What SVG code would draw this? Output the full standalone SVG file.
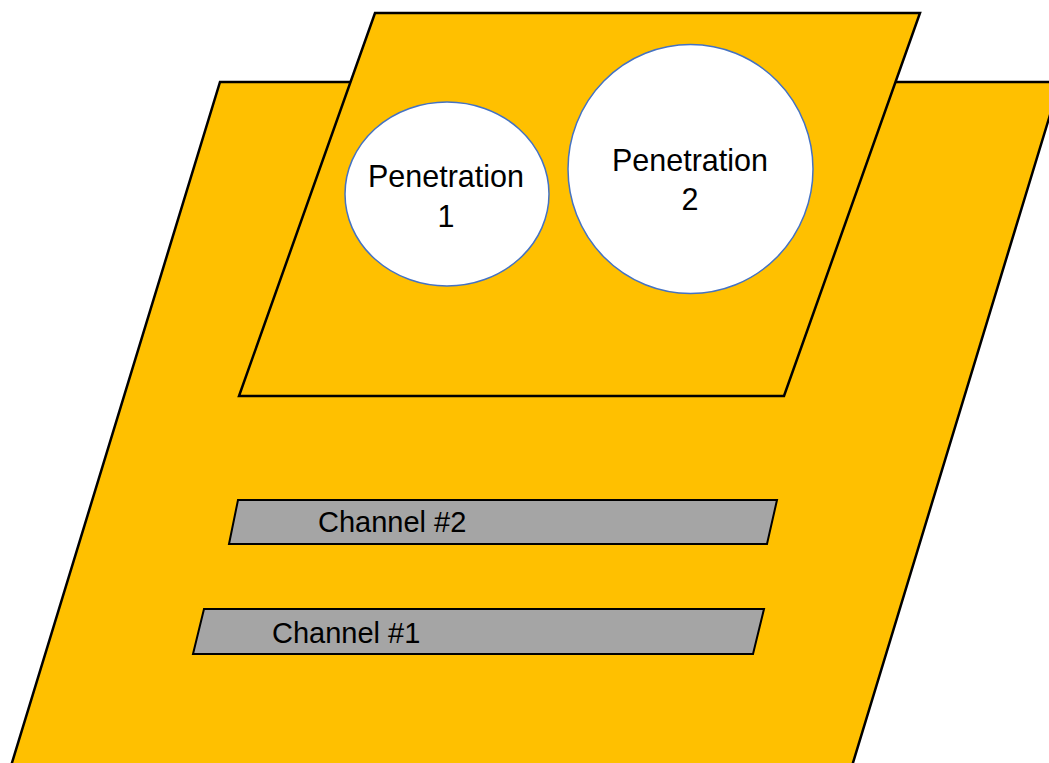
<svg xmlns="http://www.w3.org/2000/svg" width="1049" height="763" viewBox="0 0 1049 763">
<style>
.plate{fill:#FFC000;stroke:#000;stroke-width:2.5;stroke-linejoin:miter}
.chan{fill:#A5A5A5;stroke:#000;stroke-width:2}
.pen{fill:#fff;stroke:#4472C4;stroke-width:1.5}
text{font-family:"Liberation Sans",Arial,sans-serif;fill:#000}
.lbl{font-size:30.5px;text-anchor:middle}
.clbl{font-size:29px}
</style>
<rect width="1049" height="763" fill="#fff"/>
<g id="base-plate"><polygon class="plate" points="220,82 1060,82 852,766 11,766"/></g>
<g id="top-plate"><polygon class="plate" points="375,13 920,13 784,396 239,396"/></g>
<g id="penetration-1"><ellipse class="pen" cx="447" cy="194" rx="102" ry="92"/><text class="lbl" x="446" y="187">Penetration</text><text class="lbl" x="446" y="227">1</text></g>
<g id="penetration-2"><ellipse class="pen" cx="690.5" cy="169" rx="122.5" ry="124.5"/><text class="lbl" x="690" y="171">Penetration</text><text class="lbl" x="690" y="210">2</text></g>
<g id="channel-2"><polygon class="chan" points="238,500 777,500 767,544 229,544"/><text class="clbl" x="318" y="532">Channel #2</text></g>
<g id="channel-1"><polygon class="chan" points="204,609 764,609 753,654 193,654"/><text class="clbl" x="272" y="643">Channel #1</text></g>
<g id="connectors"></g>
</svg>
